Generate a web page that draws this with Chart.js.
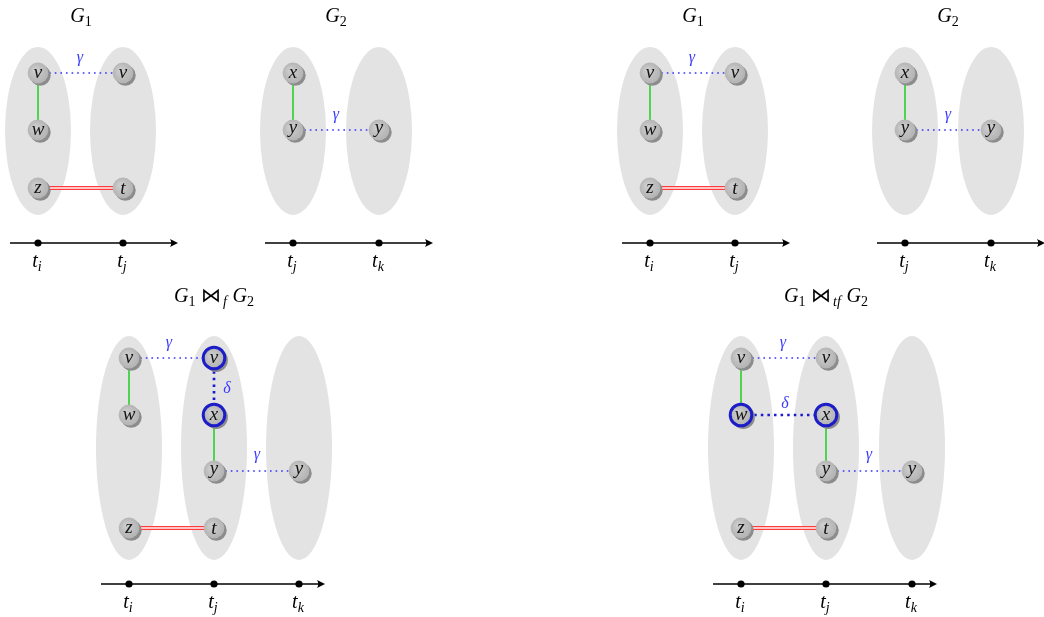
<!DOCTYPE html>
<html><head><meta charset="utf-8">
<script src="https://cdn.jsdelivr.net/npm/chart.js@4/dist/chart.umd.min.js"></script>
<style>html,body{margin:0;padding:0;background:#fff}#wrap{width:1044px;height:617px}</style>
</head><body><div id="wrap"><canvas id="c" width="1044" height="617"></canvas></div>
<script>
// ---- data ----
const ellipseX = [38,123,293,379,650,735,905,991,129,214,299,741,826,912];
const ellipseY = [131,131,131,131,131,131,131,131,448,448,448,448,448,448];
const ellipseRX = [33,33,33,33,33,33,33,33,33,33,33,33,33,33];
const ellipseRY = [84,84,84,84,84,84,84,84,112,112,112,112,112,112];

const nodeX = [38,38,38,123,123, 293,293,379, 650,650,650,735,735, 905,905,991,
               129,129,129,214,214,214,214,299, 741,741,741,826,826,826,826,912];
const nodeY = [73,130,188,73,188, 73,130,130, 73,130,188,73,188, 73,130,130,
               358,415,528,358,415,471,528,471, 358,415,528,358,415,471,528,471];
const nodeLabel = ['v','w','z','v','t','x','y','y','v','w','z','v','t','x','y','y',
                   'v','w','z','v','x','y','t','y','v','w','z','v','x','y','t','y'];
const nodeRing = [0,0,0,0,0,0,0,0,0,0,0,0,0,0,0,0,
                  0,0,0,1,1,0,0,0,0,1,0,0,1,0,0,0];

const edgeFrom = [0,0,2, 5,6, 8,8,10, 13,14, 16,16,19,20,21,18, 24,24,25,28,29,26];
const edgeTo   = [1,3,4, 6,7, 9,11,12, 14,15, 17,19,20,21,23,22, 25,27,28,29,31,30];
const edgeKind = ['g','b','r','g','b','g','b','r','g','b',
                  'g','b','d','g','b','r','g','b','d','g','b','r'];

const edgeLabelX = [80,336,692,948,169,257,783,869,227,785];
const edgeLabelY = [60,117,60,117,345,457,345,457,387,402];
const edgeLabelText = ['γ','γ','γ','γ','γ','γ','γ','γ','δ','δ'];

const timeY = [243,243,243,243,584,584];
const timeStart = [10,265,622,877,101,713];
const timeEnd = [178,433,790,1045,325,937];
const tickX = [38,123,293,379,650,735,905,991,129,214,299,741,826,912];
const tickY = [243,243,243,243,243,243,243,243,584,584,584,584,584,584];
const tickLabel = ['t_i','t_j','t_j','t_k','t_i','t_j','t_j','t_k','t_i','t_j','t_k','t_i','t_j','t_k'];

const titleX = [81,336,693,948,214,826];
const titleY = [22,22,22,22,302,302];
const titleText = ['G_1','G_2','G_1','G_2','G_1 ⋈_f G_2','G_1 ⋈_{tf} G_2'];

// ---- styles ----
const SERIF = '"Liberation Serif", "DejaVu Serif", serif';
const EDGE_STYLE = {
  g: [{color:'#1fcf1f', width:1.5, dash:[]}],
  b: [{color:'#3333ff', width:1.6, dash:[1.6,4]}],
  d: [{color:'#1a1ad2', width:2.7, dash:[2.5,4.1]}],
  r: [{color:'#ff3a3a', width:4, dash:[]},{color:'#fff4f4', width:1.4, dash:[]}]
};

function makeNode(ring){
  const s = 34, c = document.createElement('canvas');
  c.width = s; c.height = s;
  const g = c.getContext('2d');
  const cx = s/2, cy = s/2;
  g.fillStyle = '#8c8c8c';
  g.beginPath(); g.arc(cx+2.3, cy+2.3, ring ? 11.6 : 10.4, 0, Math.PI*2); g.fill();
  const gr = g.createRadialGradient(cx-3, cy-3, 1, cx, cy, 11);
  gr.addColorStop(0, '#cdcdcd'); gr.addColorStop(1, '#b2b2b2');
  g.fillStyle = gr;
  g.beginPath(); g.arc(cx, cy, ring ? 11 : 10.4, 0, Math.PI*2); g.fill();
  if (ring){
    g.strokeStyle = '#1c1cc8'; g.lineWidth = 3;
    g.beginPath(); g.arc(cx, cy, 10.8, 0, Math.PI*2); g.stroke();
  }
  return c;
}
const plainNode = makeNode(false), ringNode = makeNode(true);

// ---- datasets ----
const datasets = [];
datasets.push({
  data: nodeX.map((x,i)=>({x, y:nodeY[i]})),
  pointStyle: ctx => nodeRing[ctx.dataIndex] ? ringNode : plainNode,
  pointRadius: 10, order: 0
});
edgeFrom.forEach((f,i)=>{
  const t = edgeTo[i];
  EDGE_STYLE[edgeKind[i]].forEach((st,k)=>{
    datasets.push({
      showLine:true, pointRadius:0, borderColor:st.color, borderWidth:st.width,
      borderDash:st.dash, borderCapStyle:'butt',
      data:[{x:nodeX[f],y:nodeY[f]},{x:nodeX[t],y:nodeY[t]}],
      order: 10 - k
    });
  });
});
timeY.forEach((y,i)=>{
  datasets.push({showLine:true, pointRadius:0, borderColor:'#000', borderWidth:1.3,
    data:[{x:timeStart[i],y},{x:timeEnd[i]-3,y}], order:5});
});
datasets.push({data: tickX.map((x,i)=>({x,y:tickY[i]})), pointRadius:3.6,
  backgroundColor:'#000', borderWidth:0, order:4});

// ---- math text ----
function parseMath(s){
  const out = [];
  for (let i=0;i<s.length;i++){
    const ch = s[i];
    if (ch === '_'){
      let sub;
      if (s[i+1] === '{'){ const j = s.indexOf('}', i); sub = s.slice(i+2, j); i = j; }
      else { sub = s[i+1]; i++; }
      out.push({t:sub, sub:true});
    } else out.push({t:ch, sub:false});
  }
  return out;
}
function fontFor(tok, size){
  const sz = tok.sub ? size*0.7 : size;
  if (tok.t === '⋈') return `200 ${sz}px "DejaVu Sans ExtraLight", "DejaVu Sans"`;
  if (/^[0-9]+$/.test(tok.t)) return `${sz}px ${SERIF}`;
  return `italic ${sz}px ${SERIF}`;
}
function drawMath(ctx, s, x, y, size, color){
  const toks = parseMath(s);
  ctx.save(); ctx.fillStyle = color; ctx.textBaseline = 'alphabetic'; ctx.textAlign='left';
  let w = 0; const ws = [];
  toks.forEach(tok=>{
    ctx.font = fontFor(tok,size);
    let tw = tok.t === ' ' ? size*0.28 : ctx.measureText(tok.t).width;
    if (tok.t === '⋈') tw += size*0.1;
    ws.push(tw); w += tw;
  });
  let cx = x - w/2;
  toks.forEach((tok,i)=>{
    ctx.font = fontFor(tok,size);
    if (tok.t !== ' ') ctx.fillText(tok.t, cx, y + (tok.sub ? size*0.22 : 0));
    cx += ws[i];
  });
  ctx.restore();
}

const diagramPlugin = {
  id:'diagram',
  beforeDatasetsDraw(chart){
    const {ctx, scales:{x:sx, y:sy}} = chart;
    ctx.save(); ctx.fillStyle = '#e3e3e3';
    ellipseX.forEach((ex,i)=>{
      const px = sx.getPixelForValue(ex), py = sy.getPixelForValue(ellipseY[i]);
      const rx = Math.abs(sx.getPixelForValue(ex+ellipseRX[i]) - px);
      const ry = Math.abs(sy.getPixelForValue(ellipseY[i]+ellipseRY[i]) - py);
      ctx.beginPath(); ctx.ellipse(px, py, rx, ry, 0, 0, Math.PI*2); ctx.fill();
    });
    ctx.restore();
  },
  afterDatasetsDraw(chart){
    const {ctx, scales:{x:sx, y:sy}} = chart;
    ctx.save();
    // arrowheads
    ctx.fillStyle = '#000';
    timeY.forEach((y,i)=>{
      const px = sx.getPixelForValue(timeEnd[i]), py = sy.getPixelForValue(y);
      ctx.beginPath();
      ctx.moveTo(px, py);
      ctx.lineTo(px-8, py-4);
      ctx.quadraticCurveTo(px-5.5, py, px-8, py+4);
      ctx.closePath(); ctx.fill();
    });
    // node labels
    ctx.fillStyle = '#111'; ctx.textAlign = 'center'; ctx.textBaseline = 'alphabetic';
    ctx.font = `italic 19px ${SERIF}`;
    nodeX.forEach((x,i)=>{
      const px = sx.getPixelForValue(x), py = sy.getPixelForValue(nodeY[i]);
      const m = ctx.measureText(nodeLabel[i]);
      const asc = m.actualBoundingBoxAscent, desc = m.actualBoundingBoxDescent;
      ctx.fillText(nodeLabel[i], px, py + (asc - desc)/2);
    });
    // edge labels
    ctx.fillStyle = '#3a3aff'; ctx.font = `italic 16px ${SERIF}`;
    edgeLabelX.forEach((x,i)=>{
      const px = sx.getPixelForValue(x), py = sy.getPixelForValue(edgeLabelY[i]);
      const m = ctx.measureText(edgeLabelText[i]);
      ctx.fillText(edgeLabelText[i], px, py + (m.actualBoundingBoxAscent - m.actualBoundingBoxDescent)/2);
    });
    ctx.restore();
    // tick labels
    tickX.forEach((x,i)=>{
      drawMath(ctx, tickLabel[i], sx.getPixelForValue(x)-1, sy.getPixelForValue(tickY[i])+24, 20, '#000');
    });
    // titles
    titleX.forEach((x,i)=>{
      drawMath(ctx, titleText[i], sx.getPixelForValue(x), sy.getPixelForValue(titleY[i]), 20, '#000');
    });
  }
};

new Chart(document.getElementById('c'), {
  type:'scatter',
  data:{datasets},
  options:{
    responsive:false, animation:false, events:[],
    layout:{padding:0, autoPadding:false},
    plugins:{legend:{display:false}, tooltip:{enabled:false}, title:{display:false}},
    scales:{
      x:{type:'linear', min:0, max:1044, display:false},
      y:{type:'linear', min:0, max:617, reverse:true, display:false}
    }
  },
  plugins:[diagramPlugin]
});
</script>
</body></html>
